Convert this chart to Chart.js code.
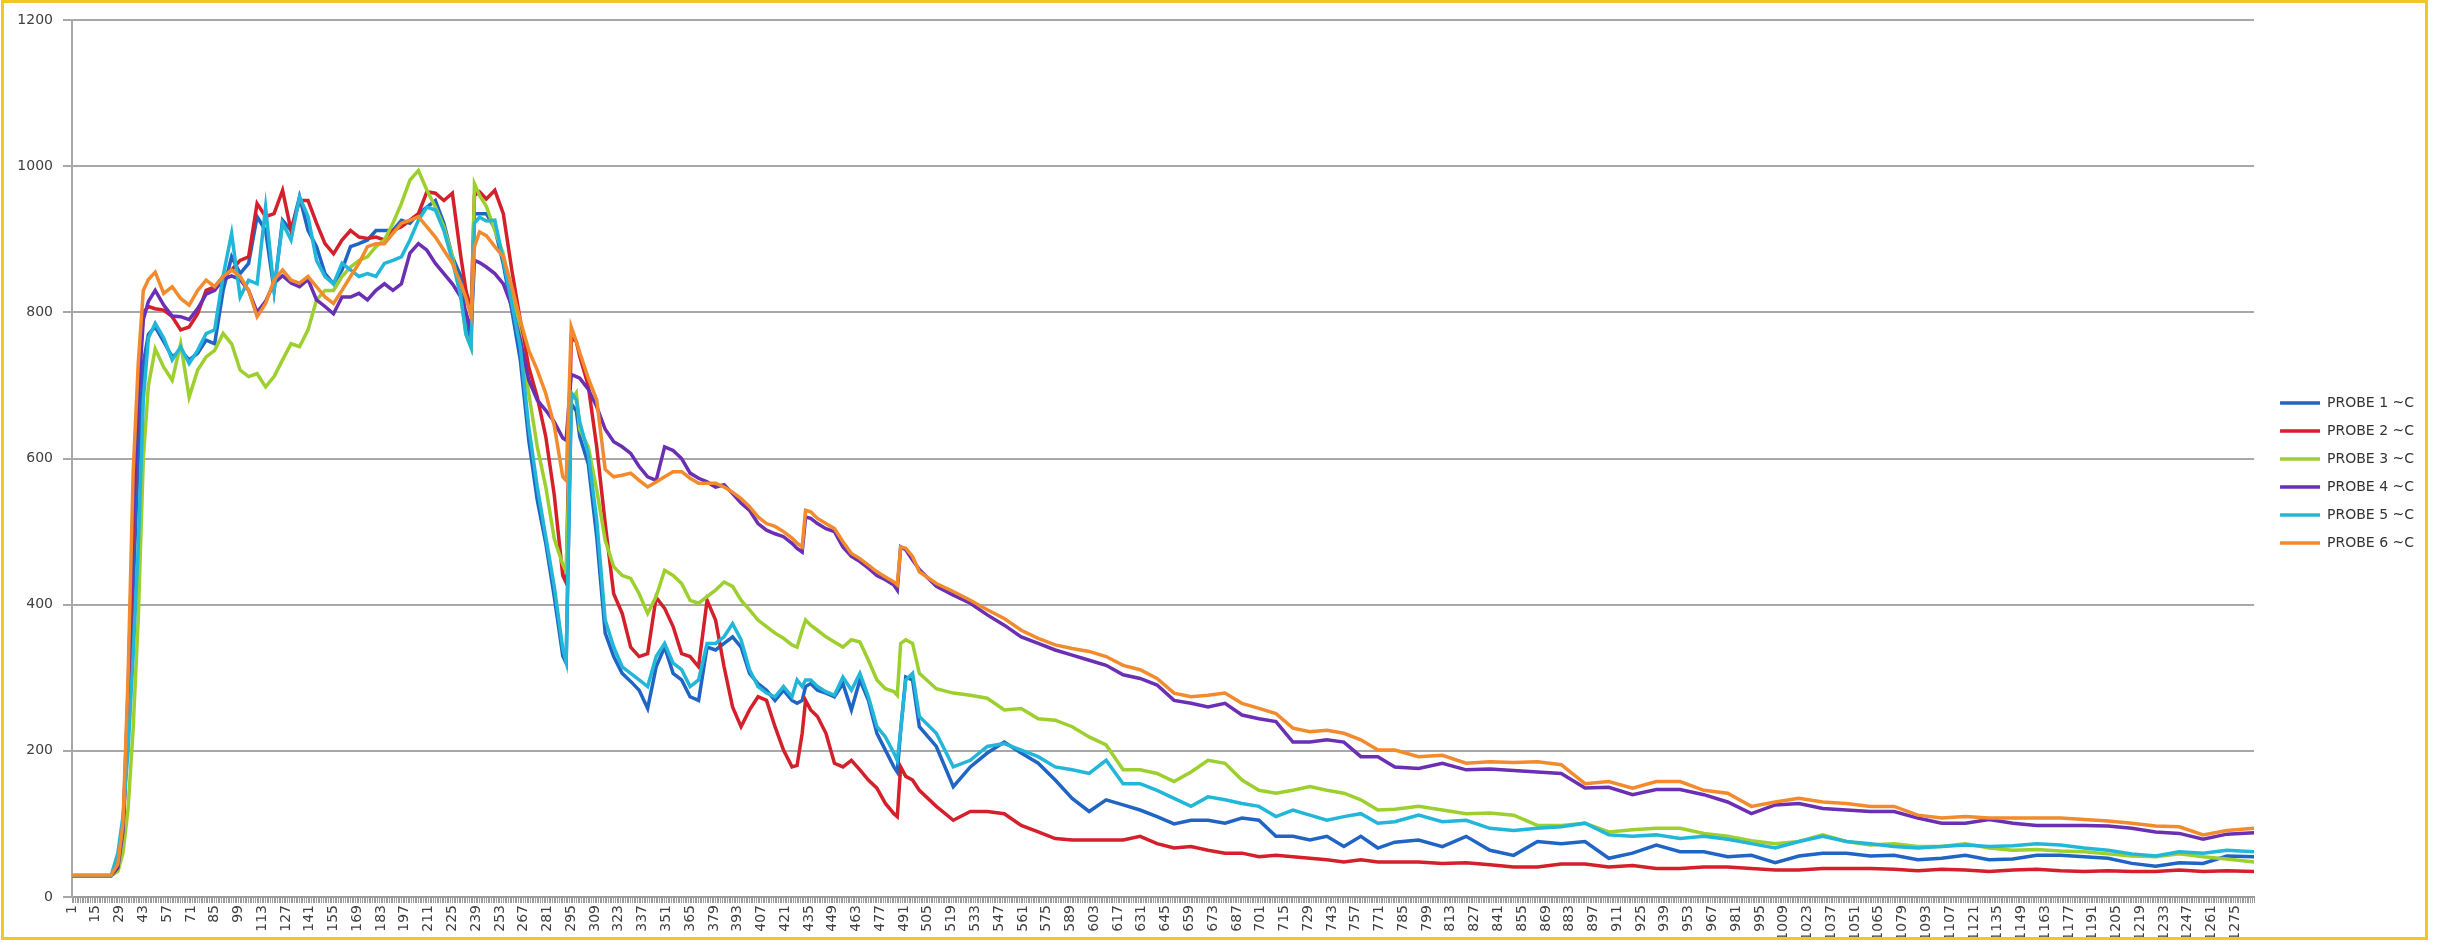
<!DOCTYPE html>
<html>
<head>
<meta charset="utf-8">
<title>Probe temperatures</title>
<script src="https://cdn.jsdelivr.net/npm/chart.js@4.4.1/dist/chart.umd.min.js"></script>
<style>
  html, body { margin: 0; padding: 0; background: #ffffff; }
  #wrap { width: 2438px; height: 942px; position: relative; }
</style>
</head>
<body>
<div id="wrap"><canvas id="chart"></canvas></div>
<script>
// Sample numbers at which the probe readings are plotted
const sampleAt = [1,24,28,31,34,37,40,43,46,50,
  55,60,65,70,75,80,85,90,95,100,105,110,115,120,125,130,135,140,145,150,155,160,165,170,175,180,185,190,195,200,205,210,215,220,225,230,
  233,236,238,241,245,250,255,260,265,270,275,280,285,290,292,295,298,
  300,305,310,315,320,325,330,335,340,345,350,355,360,365,370,375,380,385,390,395,400,405,410,415,420,425,428,431,433,436,440,445,450,455,460,465,470,475,480,485,487,489,492,496,
  500,510,520,530,540,550,560,570,580,590,600,610,620,630,640,650,660,670,680,690,700,710,720,730,740,750,760,770,780,
  794,808,822,836,850,864,878,892,906,920,934,948,962,976,990,1004,1018,1032,1046,1060,1074,1088,1102,1116,1130,1144,1158,1172,1186,1200,1214,1228,1242,1256,1270,1286];

// Temperatures (°C) per probe, one value per entry of sampleAt
const probe1 = [29,29,40,95,230,420,600,730,770,780,
  760,739,748,735,744,762,757,830,876,853,867,931,912,830,926,912,958,912,890,853,839,858,890,894,899,912,912,912,926,922,935,944,953,922,876,849,
  790,760,935,935,935,915,866,803,735,625,543,484,411,330,320,675,665,
  630,593,493,361,329,306,295,283,258,315,342,306,297,274,269,342,338,347,356,342,306,292,283,269,283,269,265,269,288,292,283,279,274,292,256,297,269,224,201,178,171,228,301,297,
  233,206,151,178,197,212,197,183,160,135,117,133,126,119,110,100,105,105,101,108,105,83,83,78,83,69,83,67,75,
  78,69,83,64,57,76,73,76,53,60,71,62,62,55,57,47,56,60,60,56,57,51,53,57,51,52,57,57,55,53,46,42,47,46,56,55];

const probe2 = [29,29,38,80,250,500,700,800,808,805,
  803,794,776,780,798,830,835,849,858,871,876,949,931,935,967,912,953,953,922,894,880,899,912,903,901,903,899,912,917,926,935,965,963,953,963,876,
  830,800,960,965,955,967,935,858,789,725,684,630,550,440,430,765,760,
  740,700,616,511,415,388,342,329,333,410,395,370,333,329,315,406,379,315,260,233,256,274,269,233,201,178,180,224,269,256,247,224,183,178,187,174,160,149,128,114,110,178,165,160,
  146,124,105,117,117,114,98,89,80,78,78,78,78,83,73,67,69,64,60,60,55,57,55,53,51,48,51,48,48,
  48,46,47,44,41,41,45,45,41,43,39,39,41,41,39,37,37,39,39,39,38,36,38,37,35,37,38,36,35,36,35,35,37,35,36,35];

const probe3 = [29,29,35,60,120,230,380,600,700,750,
  725,707,757,684,721,739,748,771,757,721,712,716,698,712,735,757,753,776,817,830,830,849,862,871,876,890,899,922,949,981,994,967,944,917,876,821,
  770,752,976,960,945,912,880,821,767,689,616,561,490,455,445,680,690,
  640,616,557,488,452,440,436,415,388,411,447,440,429,406,402,411,420,431,425,406,393,379,370,361,354,345,342,365,379,372,365,356,349,342,352,349,324,297,285,281,276,347,352,347,
  306,285,279,276,272,256,258,244,242,233,219,208,174,174,169,158,171,187,183,160,146,142,146,151,146,142,133,119,120,
  124,119,114,115,112,98,98,101,89,92,94,94,87,83,77,73,76,85,76,71,73,69,69,73,67,64,65,63,62,59,56,55,59,55,52,48];

const probe4 = [29,29,40,90,280,530,680,790,815,830,
  810,795,794,790,805,825,830,845,850,845,830,800,815,840,850,840,835,845,817,808,798,821,821,826,817,830,839,830,839,881,894,885,867,853,839,821,
  800,775,871,868,862,853,839,808,762,707,680,666,650,628,625,715,712,
  710,695,671,640,623,616,607,589,575,570,616,611,600,580,573,568,561,564,552,539,529,511,502,497,493,484,477,472,520,518,511,504,500,479,466,459,450,440,434,427,420,479,475,461,
  448,425,413,402,386,372,356,347,338,331,324,317,304,299,290,269,265,260,265,249,244,240,212,212,215,212,192,192,178,
  176,183,174,175,173,171,169,149,150,140,147,147,140,130,114,126,128,121,119,117,117,108,101,101,106,101,98,98,98,97,94,89,87,79,86,88];

const probe5 = [29,29,60,110,200,330,480,680,765,785,
  765,735,753,730,748,771,776,850,908,821,844,839,944,830,922,899,958,931,871,849,839,867,858,849,853,849,867,871,876,899,926,944,940,912,871,821,
  770,752,922,930,925,926,871,812,753,643,561,493,425,340,322,690,680,
  650,607,516,379,342,315,306,297,288,329,347,320,311,288,297,347,347,356,374,352,311,288,279,274,288,274,297,288,297,297,288,281,276,301,283,306,274,233,219,197,187,228,297,306,
  247,224,178,187,206,210,201,192,178,174,169,187,155,155,146,135,124,137,133,128,124,110,119,112,105,110,114,101,103,
  112,103,105,94,91,94,96,101,85,83,85,80,83,79,73,67,76,83,76,73,69,67,69,71,69,70,73,71,67,64,59,56,62,60,64,62];

const probe6 = [30,30,45,100,300,580,730,830,845,855,
  826,835,819,810,830,844,835,849,858,849,830,794,812,844,858,844,840,849,835,821,812,830,849,867,890,894,894,908,922,926,931,917,903,885,867,839,
  820,795,890,910,905,890,876,835,789,748,721,689,645,575,570,780,760,
  745,710,680,585,575,577,580,570,561,568,575,582,582,573,566,566,566,561,554,545,534,520,511,507,500,491,484,479,529,527,518,511,504,486,470,463,454,445,438,431,427,479,477,466,
  445,429,418,406,393,381,365,354,345,340,336,329,317,311,299,279,274,276,279,265,258,251,231,226,228,224,215,201,201,
  192,194,183,185,184,185,181,155,158,149,158,158,146,142,124,130,135,130,128,124,124,112,108,110,108,108,108,108,106,104,101,97,96,85,91,94];

const seriesNames = ['PROBE 1 ~C','PROBE 2 ~C','PROBE 3 ~C','PROBE 4 ~C','PROBE 5 ~C','PROBE 6 ~C'];
const seriesValues = [probe1, probe2, probe3, probe4, probe5, probe6];
const seriesColors = ['#2165c4','#d4202a','#9dcf2e','#6a2fb3','#22b6d8','#f28a2e'];

// Labelled samples on the horizontal axis
const xTickLabels = [1,15,29,43,57,71,85,99,113,127,141,155,169,183,197,211,225,239,253,267,281,295,309,323,337,351,365,379,393,407,421,435,449,463,477,491,505,519,533,547,561,575,589,603,617,631,645,659,673,687,701,715,729,743,757,771,785,799,813,827,841,855,869,883,897,911,925,939,953,967,981,995,1009,1023,1037,1051,1065,1079,1093,1107,1121,1135,1149,1163,1177,1191,1205,1219,1233,1247,1261,1275];
const yTickLabels = [0,200,400,600,800,1000,1200];
const sampleCount = 1286;

// every sample gets a tick mark; only xTickLabels get text
const allSamples = [];
for (let s = 1; s <= sampleCount; s++) allSamples.push(s);
const labelled = new Set(xTickLabels);

const axisFont = { family: '"DejaVu Sans", Verdana, sans-serif', size: 14 };
const axisGrey = '#a8a8a8';

const pagePlugin = {
  id: 'page',
  beforeDraw(chart) {
    const { ctx, width, height } = chart;
    ctx.save();
    ctx.fillStyle = '#ffffff';
    ctx.fillRect(0, 0, width, height);
    ctx.restore();
  },
  afterLayout(chart) {
    // legend block sits a little right of the plot, its first row level with y≈403
    const lg = chart.legend;
    if (lg) {
      lg.left += 12; lg.right += 12;
      lg.top = 382; lg.bottom = 942;
    }
  },
  afterDraw(chart) {
    const { ctx } = chart;
    ctx.save();
    ctx.strokeStyle = '#f3c623';
    ctx.lineWidth = 3;
    ctx.strokeRect(2.5, 1.5, 2424, 937);
    ctx.restore();
  }
};

const datasets = seriesValues.map((vals, i) => ({
  label: seriesNames[i],
  data: sampleAt.map((s, k) => ({ x: s, y: vals[k] })),
  borderColor: seriesColors[i],
  backgroundColor: seriesColors[i],
  borderWidth: 3.5,
  pointRadius: 0,
  tension: 0,
  order: seriesValues.length - i
}));

new Chart(document.getElementById('chart'), {
  type: 'line',
  data: { datasets },
  options: {
    responsive: true,
    maintainAspectRatio: false,
    devicePixelRatio: 1,
    animation: false,
    parsing: false,
    layout: { padding: { left: 10, right: 26, top: 20, bottom: 0 } },
    plugins: {
      tooltip: { enabled: false },
      legend: {
        position: 'right',
        align: 'start',
        labels: {
          usePointStyle: true,
          pointStyle: 'line',
          pointStyleWidth: 40,
          boxHeight: 14,
          padding: 14,
          color: '#333333',
          font: { family: '"DejaVu Sans", Verdana, sans-serif', size: 14 },
          sort: (a, b) => a.datasetIndex - b.datasetIndex
        }
      }
    },
    scales: {
      x: {
        type: 'linear',
        min: 1,
        max: sampleCount,
        afterBuildTicks: (s) => { s.ticks = allSamples.map(v => ({ value: v })); },
        afterFit: (s) => { s.height = 45; },
        ticks: {
          autoSkip: false,
          minRotation: 90,
          maxRotation: 90,
          padding: 2,
          color: '#404040',
          font: axisFont,
          callback: (v) => labelled.has(v) ? String(v) : ''
        },
        grid: { drawOnChartArea: false, drawTicks: true, tickLength: 6, color: '#9c9c9c', lineWidth: 1 },
        border: { display: true, color: '#9c9c9c', width: 2 }
      },
      y: {
        min: 0,
        max: 1200,
        afterBuildTicks: (s) => { s.ticks = yTickLabels.map(v => ({ value: v })); },
        afterFit: (s) => { s.width = 62; },
        ticks: { padding: 10, color: '#404040', font: axisFont, callback: (v) => String(v) },
        grid: { color: axisGrey, lineWidth: 2, tickLength: 9 },
        border: { display: true, color: axisGrey, width: 2 }
      }
    }
  },
  plugins: [pagePlugin]
});
</script>
</body>
</html>
